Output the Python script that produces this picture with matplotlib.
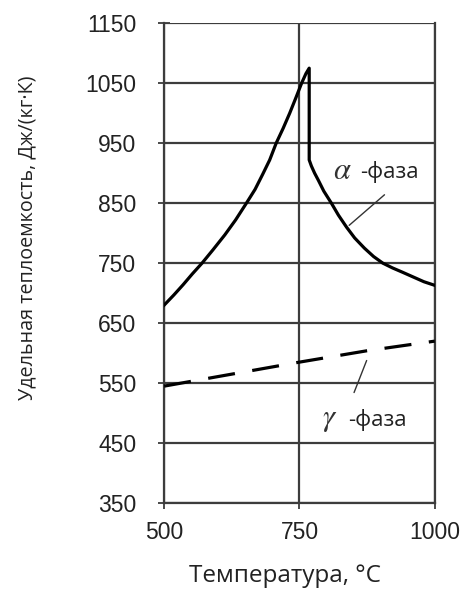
import matplotlib
matplotlib.use("Agg")
import matplotlib.pyplot as plt

# Data
alpha_T = [500, 518, 535, 552, 570, 590, 612, 632, 652, 668, 682, 695, 707, 720, 732,
           744, 754, 762, 768,
           768, 772, 778, 785, 795, 809, 822, 837, 852, 870, 887, 904, 922, 940, 960,
           980, 1000]
alpha_c = [680, 697, 714, 732, 750, 772, 797, 822, 850, 873, 898, 922, 950, 975, 1000,
           1027, 1050, 1066, 1075,
           922, 912, 900, 888, 870, 850, 830, 810, 792, 775, 761, 750, 742, 735, 727,
           719, 713]
gamma_T = [500, 625, 750, 875, 1000]
gamma_c = [545, 565, 585, 604, 620]

x_ticks = [500, 750, 1000]
y_ticks = [350, 450, 550, 650, 750, 850, 950, 1050, 1150]

xlabel = "Температура, °C"
ylabel = "Удельная теплоемкость, Дж/(кг·К)"
phase_text = "-фаза"

fig = plt.figure(figsize=(4.69, 5.94), dpi=100)
ax = fig.add_axes([0.350, 0.153, 0.577, 0.808])

grid_c = "#3c3c3c"
ax.plot(alpha_T, alpha_c, color="black", lw=2.3, solid_joinstyle="round", zorder=3)
ax.plot(gamma_T, gamma_c, color="black", lw=2.3, dashes=(8.5, 5.5), zorder=3)

ax.set_xlim(500, 1000)
ax.set_ylim(350, 1150)
ax.set_xticks(x_ticks)
ax.set_yticks(y_ticks)
ax.grid(True, color=grid_c, lw=1.6)
for s in ax.spines.values():
    s.set_color(grid_c)
    s.set_linewidth(1.6)
ax.spines["top"].set_visible(False)

ax.tick_params(axis="both", direction="inout", length=8, width=1.3, color=grid_c,
               labelsize=16.5, labelcolor="#222222")
ax.tick_params(axis="y", pad=16)
ax.tick_params(axis="x", pad=9)
for lab in ax.get_xticklabels() + ax.get_yticklabels():
    lab.set_fontfamily(["Liberation Sans", "DejaVu Sans"])

ax.set_xlabel(xlabel, fontsize=17.5, family=["Open Sans", "DejaVu Sans"], color="#222222")
ax.xaxis.set_label_coords(0.446, -0.126)
ax.set_ylabel(ylabel, fontsize=14.2, family=["Open Sans", "DejaVu Sans"], color="#222222")
ax.yaxis.set_label_coords(-0.468, 0.553)

# annotations
ax.annotate("", xy=(838, 810), xytext=(911, 867),
            arrowprops=dict(arrowstyle="-", color="#333333", lw=1.0))
ax.text(812, 904, r"$\alpha$", fontsize=22, color="#333333", ha="left", va="center",
        math_fontfamily="stix")
ax.text(862, 902, phase_text, fontsize=16, color="#222222", ha="left", va="center",
        family=["Open Sans", "DejaVu Sans"])

ax.annotate("", xy=(849, 530), xytext=(876, 592),
            arrowprops=dict(arrowstyle="-", color="#333333", lw=1.0))
ax.text(791, 490, r"$\gamma$", fontsize=22, color="#333333", ha="left", va="center",
        math_fontfamily="stix")
ax.text(839, 488, phase_text, fontsize=16, color="#222222", ha="left", va="center",
        family=["Open Sans", "DejaVu Sans"])

fig.savefig("out.png", dpi=100)
